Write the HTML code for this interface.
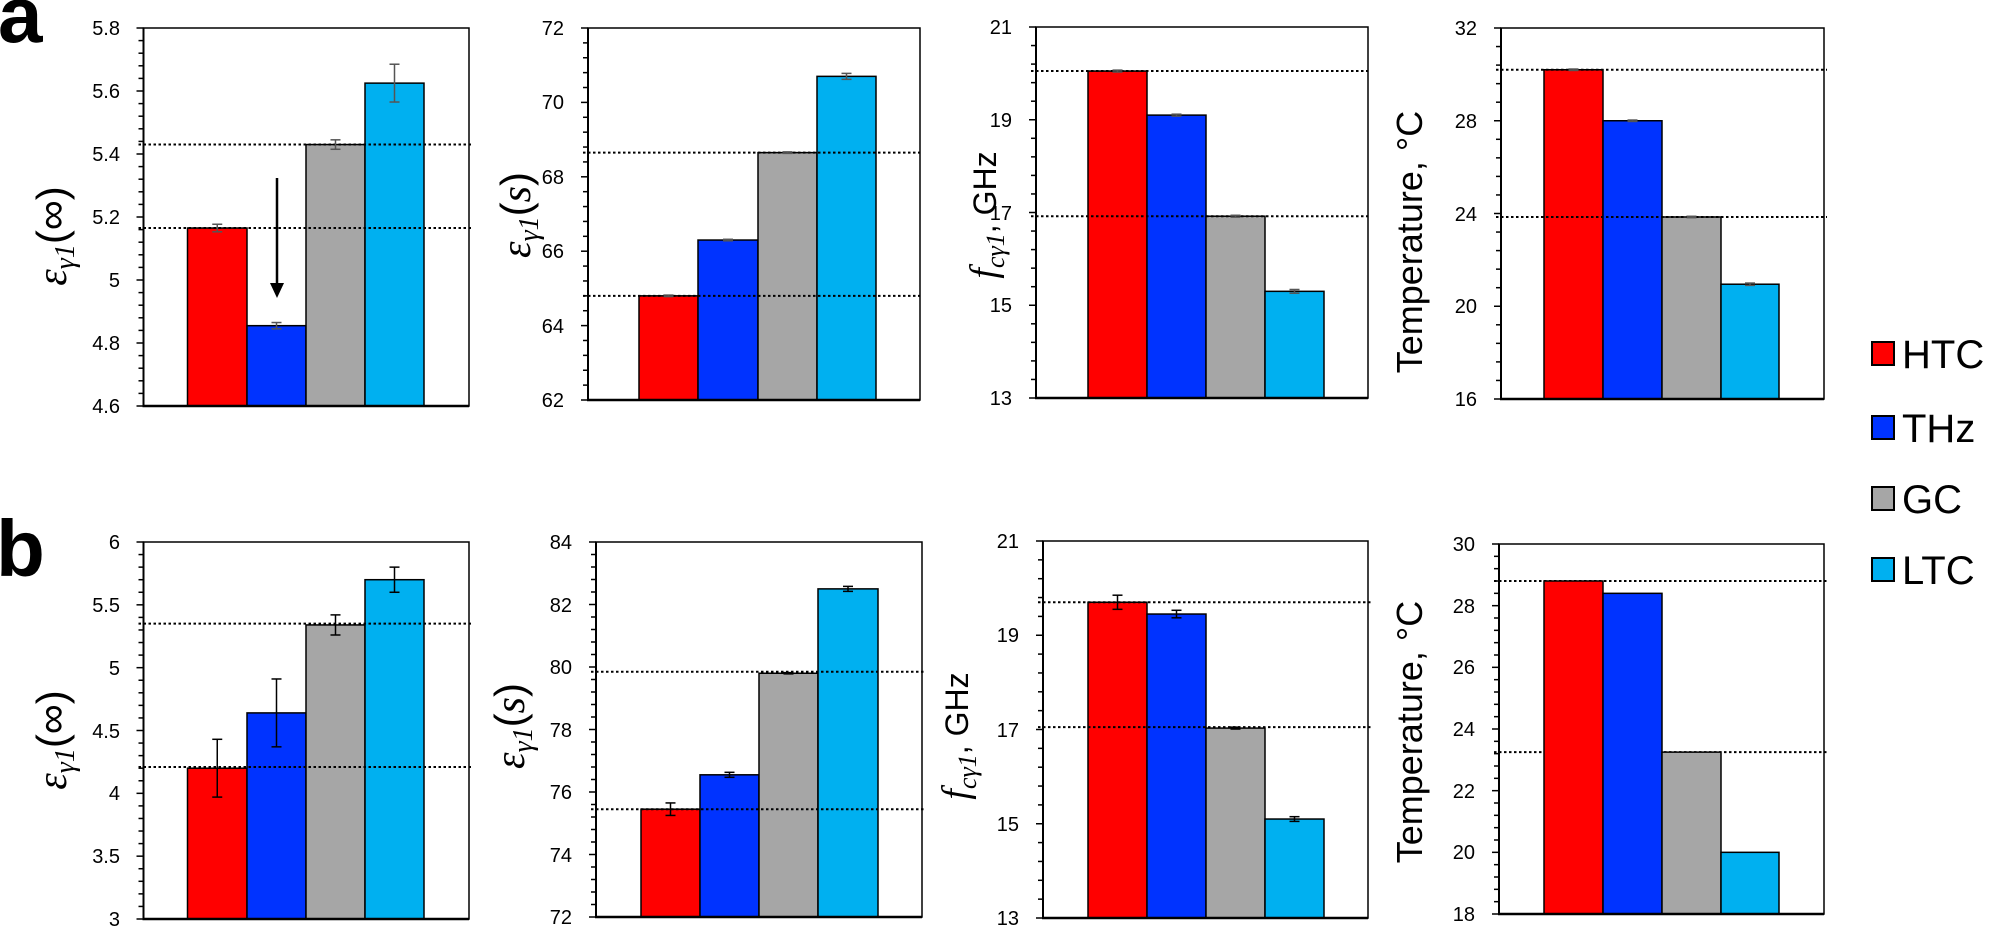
<!DOCTYPE html>
<html><head><meta charset="utf-8">
<style>
html,body{margin:0;padding:0;background:#fff;}
svg{display:block;}
.t{font-family:"Liberation Sans",Arial,sans-serif;font-size:20px;fill:#000;text-anchor:end;}
.ax{font-family:"Liberation Sans",Arial,sans-serif;font-size:36px;fill:#000;text-anchor:middle;}
.ax2{font-family:"Liberation Sans",Arial,sans-serif;font-size:32px;fill:#000;text-anchor:middle;}
.ax3{font-family:"Liberation Sans",Arial,sans-serif;font-size:42px;fill:#000;text-anchor:middle;}
.gr{font-family:"Liberation Serif",serif;font-style:italic;}
.lg{font-family:"Liberation Sans",Arial,sans-serif;font-size:40px;fill:#000;}
.pl{font-family:"Liberation Sans",Arial,sans-serif;font-size:80px;font-weight:bold;fill:#000;}
</style></head>
<body>
<svg id="s" xmlns="http://www.w3.org/2000/svg" width="1995" height="929" viewBox="0 0 1995 929">
<rect width="1995" height="929" fill="#fff"/>
<g id="g"></g>
<text class="pl" x="-2" y="42">a</text>
<text class="pl" x="-4" y="576">b</text>
<g class="t">
<text x="120" y="413">4.6</text><text x="120" y="350">4.8</text><text x="120" y="287">5</text><text x="120" y="224">5.2</text><text x="120" y="161">5.4</text><text x="120" y="98">5.6</text><text x="120" y="35">5.8</text>
<text x="564" y="407">62</text><text x="564" y="333">64</text><text x="564" y="258">66</text><text x="564" y="184">68</text><text x="564" y="109">70</text><text x="564" y="35">72</text>
<text x="1012" y="405">13</text><text x="1012" y="312">15</text><text x="1012" y="220">17</text><text x="1012" y="127">19</text><text x="1012" y="34">21</text>
<text x="1477" y="406">16</text><text x="1477" y="313">20</text><text x="1477" y="221">24</text><text x="1477" y="128">28</text><text x="1477" y="35">32</text>
<text x="120" y="926">3</text><text x="120" y="863">3.5</text><text x="120" y="800">4</text><text x="120" y="738">4.5</text><text x="120" y="675">5</text><text x="120" y="612">5.5</text><text x="120" y="549">6</text>
<text x="572" y="924">72</text><text x="572" y="862">74</text><text x="572" y="799">76</text><text x="572" y="737">78</text><text x="572" y="674">80</text><text x="572" y="612">82</text><text x="572" y="549">84</text>
<text x="1019" y="925">13</text><text x="1019" y="831">15</text><text x="1019" y="737">17</text><text x="1019" y="642">19</text><text x="1019" y="548">21</text>
<text x="1475" y="921">18</text><text x="1475" y="859">20</text><text x="1475" y="798">22</text><text x="1475" y="736">24</text><text x="1475" y="674">26</text><text x="1475" y="613">28</text><text x="1475" y="551">30</text>
</g>
<text class="ax3" transform="translate(66,236) rotate(-90)"><tspan class="gr">ε</tspan><tspan class="gr" font-size="28" dy="8">γ1</tspan><tspan dy="-8">(∞)</tspan></text>
<text class="ax3" transform="translate(530,215) rotate(-90)"><tspan class="gr">ε</tspan><tspan class="gr" font-size="28" dy="8">γ1</tspan><tspan dy="-8">(</tspan><tspan class="gr">s</tspan><tspan>)</tspan></text>
<text class="ax2" transform="translate(996,215) rotate(-90)"><tspan class="gr" font-size="38">f</tspan><tspan class="gr" font-size="26" dy="8">cγ1</tspan><tspan dy="-8">, GHz</tspan></text>
<text class="ax" transform="translate(1422,242) rotate(-90)">Temperature, °C</text>
<text class="ax3" transform="translate(66,740) rotate(-90)"><tspan class="gr">ε</tspan><tspan class="gr" font-size="28" dy="8">γ1</tspan><tspan dy="-8">(∞)</tspan></text>
<text class="ax3" transform="translate(524,726) rotate(-90)"><tspan class="gr">ε</tspan><tspan class="gr" font-size="28" dy="8">γ1</tspan><tspan dy="-8">(</tspan><tspan class="gr">s</tspan><tspan>)</tspan></text>
<text class="ax2" transform="translate(968,736) rotate(-90)"><tspan class="gr" font-size="38">f</tspan><tspan class="gr" font-size="26" dy="8">cγ1</tspan><tspan dy="-8">, GHz</tspan></text>
<text class="ax" transform="translate(1422,732) rotate(-90)">Temperature, °C</text>
<rect x="1872" y="342" width="22" height="23" fill="#FF0000" stroke="#000" stroke-width="2"/>
<rect x="1872" y="416" width="22" height="23" fill="#0033FF" stroke="#000" stroke-width="2"/>
<rect x="1872" y="487" width="22" height="23" fill="#A6A6A6" stroke="#000" stroke-width="2"/>
<rect x="1872" y="558" width="22" height="23" fill="#00B0F0" stroke="#000" stroke-width="2"/>
<text class="lg" x="1902" y="368">HTC</text>
<text class="lg" x="1902" y="442">THz</text>
<text class="lg" x="1902" y="513">GC</text>
<text class="lg" x="1902" y="584">LTC</text>
</svg>
<script>
var C=["#FF0000","#0033FF","#A6A6A6","#00B0F0"];
var P=[
{L:143.5,R:469,T:28,B:406,mn:4.6,mx:5.8,n:6,bx:[187.5,247,306,365,424],v:[5.165,4.855,5.43,5.625],e:[0.012,0.01,0.015,0.06],d:[5.43,5.165],ec:"#555"},
{L:588,R:920,T:28,B:400,mn:62,mx:72,n:5,bx:[639,698,758,817,876],v:[64.8,66.3,68.65,70.7],e:[0.02,0.02,0.02,0.08],d:[68.65,64.8],ec:"#555"},
{L:1036,R:1368,T:27,B:398,mn:13,mx:21,n:4,bx:[1088,1147,1206,1265,1324],v:[20.05,19.1,16.92,15.3],e:[0.02,0.02,0.02,0.04],d:[20.05,16.92],ec:"#555"},
{L:1501,R:1824,T:28,B:399,mn:16,mx:32,n:4,bx:[1544,1603,1662,1721,1779],v:[30.2,28.0,23.85,20.95],e:[0.03,0.03,0.03,0.05],d:[30.2,23.85],ec:"#555"},
{L:143.5,R:469,T:542,B:919,mn:3,mx:6,n:6,bx:[187.5,247,306,365,424],v:[4.2,4.64,5.34,5.7],e:[0.23,0.27,0.08,0.1],d:[5.35,4.21],ec:"#000"},
{L:596,R:922,T:542,B:917,mn:72,mx:84,n:6,bx:[641,700,759,818,878],v:[75.45,76.55,79.8,82.5],e:[0.2,0.08,0.02,0.08],d:[79.85,75.45],ec:"#000"},
{L:1043,R:1368,T:541,B:918,mn:13,mx:21,n:4,bx:[1088,1147,1206,1265,1324],v:[19.7,19.45,17.03,15.1],e:[0.15,0.08,0.02,0.05],d:[19.7,17.05],ec:"#000"},
{L:1499,R:1824,T:544,B:914,mn:18,mx:30,n:6,bx:[1544,1603,1662,1721,1779],v:[28.8,28.4,23.25,20.0],e:[0,0,0,0],d:[28.8,23.25],ec:"#000",behind:true}
];
var h="";
function ln(x1,y1,x2,y2,c,w,da){h+='<line x1="'+x1+'" y1="'+y1+'" x2="'+x2+'" y2="'+y2+'" stroke="'+c+'" stroke-width="'+w+'"'+(da?' stroke-dasharray="'+da+'"':'')+'/>';}
P.forEach(function(p){
 var Y=function(v){return p.B-(v-p.mn)/(p.mx-p.mn)*(p.B-p.T);};
 h+='<rect x="'+p.L+'" y="'+p.T+'" width="'+(p.R-p.L)+'" height="'+(p.B-p.T)+'" fill="#fff" stroke="#000" stroke-width="1.5"/>';
 var dots=function(){p.d.forEach(function(d){ln(p.L-5,Y(d),p.R+3,Y(d),"#000",2,"2.5 2.5");});};
 if(p.behind)dots();
 for(var i=0;i<4;i++){var y=Y(p.v[i]);h+='<rect x="'+p.bx[i]+'" y="'+y+'" width="'+(p.bx[i+1]-p.bx[i])+'" height="'+(p.B-y)+'" fill="'+C[i]+'" stroke="#000" stroke-width="1.5"/>';}
 if(!p.behind)dots();
 for(var i=0;i<4;i++){if(!p.e[i])continue;var cx=(p.bx[i]+p.bx[i+1])/2,y1=Y(p.v[i]+p.e[i]),y2=Y(p.v[i]-p.e[i]);ln(cx,y1,cx,y2,p.ec,1.5);ln(cx-5,y1,cx+5,y1,p.ec,1.5);ln(cx-5,y2,cx+5,y2,p.ec,1.5);}
 var m=p.n*5;for(var k=0;k<=m;k++){var y=p.B-k*(p.B-p.T)/m;ln(p.L-(k%5==0?7:5),y,p.L,y,"#000",1.5);}
 ln(p.L,p.T,p.L,p.B,"#000",2);ln(p.L-1,p.B,p.R,p.B,"#000",2.5);
});
ln(277,178,277,285,"#000",2.5);
h+='<polygon points="270,283 284,283 277,298" fill="#000"/>';
document.getElementById("g").innerHTML=h;
</script>
</body></html>
